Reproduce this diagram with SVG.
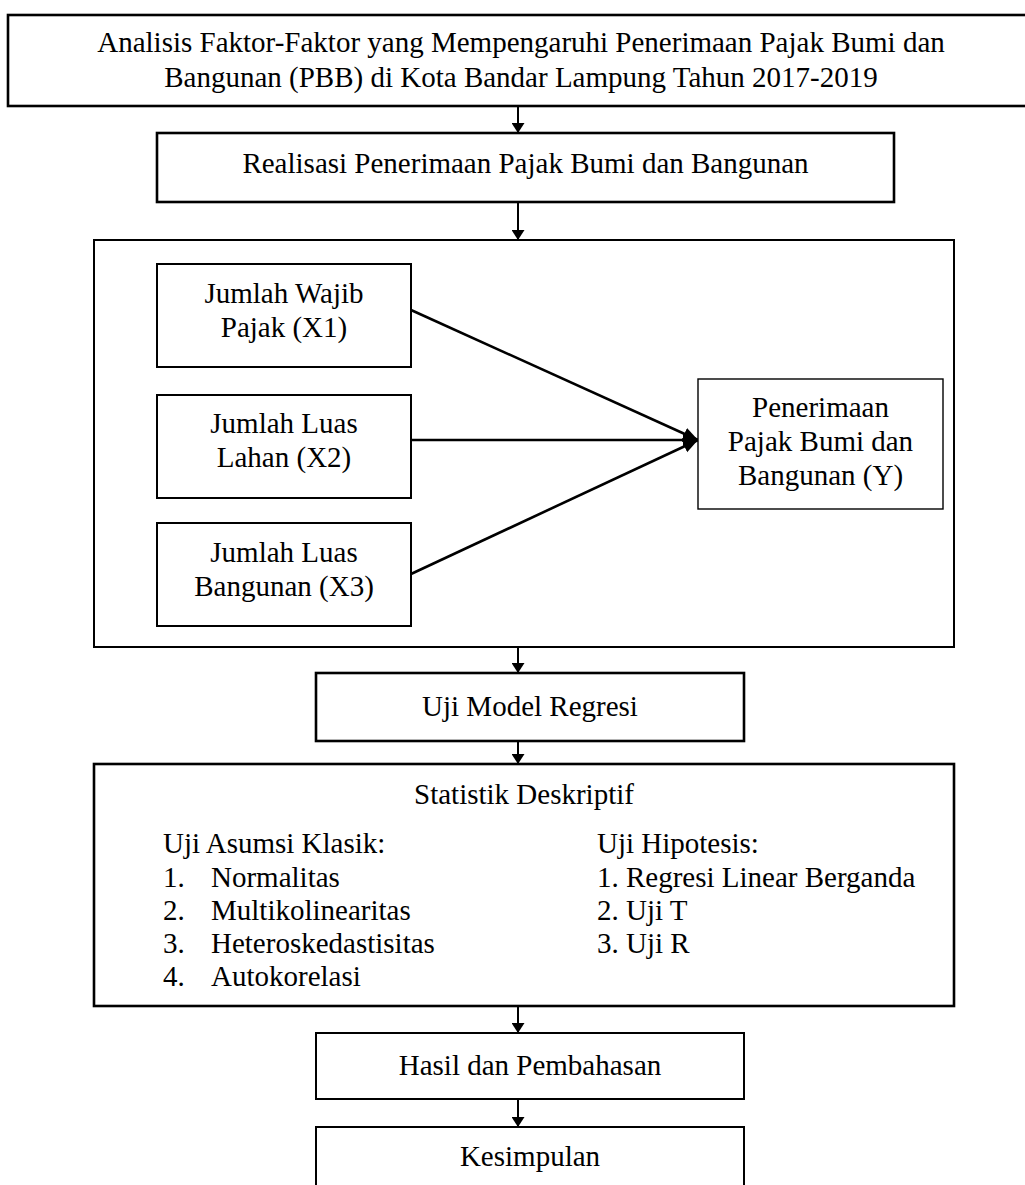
<svg xmlns="http://www.w3.org/2000/svg" width="1025" height="1185" viewBox="0 0 1025 1185">
<style>
  text { font-family: "Liberation Serif", "Times New Roman", serif; font-size: 29px; fill: #000; }
  .c { text-anchor: middle; }
  .box { fill: #fff; stroke: #000; }
  .thick { stroke-width: 2.6; }
  .mid { stroke-width: 2; }
  .thin { stroke-width: 1.4; }
  .conn { stroke: #000; fill: none; }
</style>
<defs>
  <marker id="arr" markerUnits="userSpaceOnUse" markerWidth="11" markerHeight="13" refX="10" refY="6.5" orient="auto">
    <path d="M0,0 L10,6.5 L0,13 z" fill="#000"/>
  </marker>
  <marker id="arrBig" markerUnits="userSpaceOnUse" markerWidth="16" markerHeight="16" refX="15" refY="8" orient="auto">
    <path d="M0,1.5 L15,8 L0,14.5 z" fill="#000"/>
  </marker>
</defs>
<rect width="1025" height="1185" fill="#fff"/>

<g id="connectors">
  <line class="conn" x1="518" y1="106" x2="518" y2="133" stroke-width="2" marker-end="url(#arr)"/>
  <line class="conn" x1="518" y1="202" x2="518" y2="240" stroke-width="2" marker-end="url(#arr)"/>
  <line class="conn" x1="518" y1="647" x2="518" y2="673" stroke-width="2" marker-end="url(#arr)"/>
  <line class="conn" x1="518" y1="741" x2="518" y2="764" stroke-width="2" marker-end="url(#arr)"/>
  <line class="conn" x1="518" y1="1006" x2="518" y2="1033" stroke-width="2" marker-end="url(#arr)"/>
  <line class="conn" x1="518" y1="1099" x2="518" y2="1127" stroke-width="2" marker-end="url(#arr)"/>
  <line class="conn" x1="411" y1="310" x2="698" y2="440" stroke-width="2.6" marker-end="url(#arrBig)"/>
  <line class="conn" x1="411" y1="440" x2="698" y2="440" stroke-width="2.6" marker-end="url(#arrBig)"/>
  <line class="conn" x1="411" y1="574" x2="698" y2="440" stroke-width="2.6" marker-end="url(#arrBig)"/>
</g>

<g id="title">
  <rect class="box thick" x="8" y="15" width="1030" height="91"/>
  <text class="c" x="521" y="52">Analisis Faktor-Faktor yang Mempengaruhi Penerimaan Pajak Bumi dan</text>
  <text class="c" x="521" y="87">Bangunan (PBB) di Kota Bandar Lampung Tahun 2017-2019</text>
</g>

<g id="realisasi">
  <rect class="box thick" x="157" y="133" width="737" height="69"/>
  <text class="c" x="525.5" y="173">Realisasi Penerimaan Pajak Bumi dan Bangunan</text>
</g>

<g id="model">
  <rect x="94" y="240" width="860" height="407" fill="none" stroke="#000" stroke-width="2"/>
</g>

<g id="x1">
  <rect class="box mid" x="157" y="264" width="254" height="103"/>
  <text class="c" x="284" y="303">Jumlah Wajib</text>
  <text class="c" x="284" y="337">Pajak (X1)</text>
</g>

<g id="x2">
  <rect class="box mid" x="157" y="395" width="254" height="103"/>
  <text class="c" x="284" y="433">Jumlah Luas</text>
  <text class="c" x="284" y="467">Lahan (X2)</text>
</g>

<g id="x3">
  <rect class="box mid" x="157" y="523" width="254" height="103"/>
  <text class="c" x="284" y="562">Jumlah Luas</text>
  <text class="c" x="284" y="596">Bangunan (X3)</text>
</g>

<g id="y">
  <rect class="box thin" x="698" y="379" width="245" height="130"/>
  <text class="c" x="820.5" y="417">Penerimaan</text>
  <text class="c" x="820.5" y="451">Pajak Bumi dan</text>
  <text class="c" x="820.5" y="485">Bangunan (Y)</text>
</g>

<g id="uji-model">
  <rect class="box thick" x="316" y="673" width="428" height="68"/>
  <text class="c" x="530" y="716">Uji Model Regresi</text>
</g>

<g id="statistik">
  <rect class="box thick" x="94" y="764" width="860" height="242"/>
  <text class="c" x="524" y="804">Statistik Deskriptif</text>
  <text x="163" y="853">Uji Asumsi Klasik:</text>
  <text x="163" y="887">1.</text><text x="211" y="887">Normalitas</text>
  <text x="163" y="920">2.</text><text x="211" y="920">Multikolinearitas</text>
  <text x="163" y="953">3.</text><text x="211" y="953">Heteroskedastisitas</text>
  <text x="163" y="986">4.</text><text x="211" y="986">Autokorelasi</text>
  <text x="597" y="853">Uji Hipotesis:</text>
  <text x="597" y="887">1. Regresi Linear Berganda</text>
  <text x="597" y="920">2. Uji T</text>
  <text x="597" y="953">3. Uji R</text>
</g>

<g id="hasil">
  <rect class="box mid" x="316" y="1033" width="428" height="66"/>
  <text class="c" x="530" y="1075">Hasil dan Pembahasan</text>
</g>

<g id="kesimpulan">
  <rect class="box mid" x="316" y="1127" width="428" height="80"/>
  <text class="c" x="530" y="1166">Kesimpulan</text>
</g>
</svg>
